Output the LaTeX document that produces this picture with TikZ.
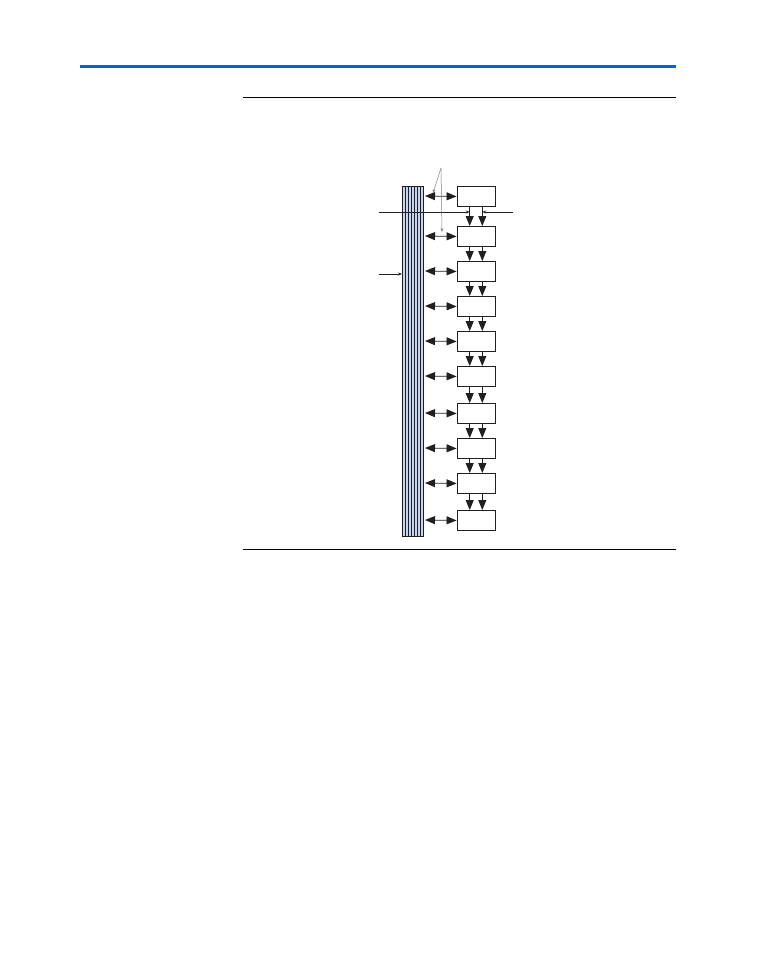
\documentclass[tikz,border=0pt]{standalone}
\usetikzlibrary{arrows.meta,calc}
\definecolor{hdrblue}{HTML}{0066CC}
\definecolor{busfill}{HTML}{C5D6F0}
\definecolor{ink}{HTML}{231F20}
\tikzset{
  blk/.style={draw=ink,line width=0.9pt,fill=white,minimum width=38pt,minimum height=20pt,inner sep=0pt},
  bigtip/.style={-{Triangle[length=10pt,width=8pt]}},
  dbltip/.style={{Triangle[length=10pt,width=8pt]}-{Triangle[length=10pt,width=8pt]}},
  wire/.style={line width=0.8pt,ink},
  smalltip/.style={-{Stealth[length=4pt,width=3pt]}},
  leader/.style={line width=0.5pt,gray,-{Stealth[length=4pt,width=3pt]}},
}
\begin{document}
\begin{tikzpicture}[x=1pt,y=-1pt]
\useasboundingbox (0,0) rectangle (756,972);
% header rules
\draw[hdrblue,line width=3pt] (80,66) -- (676,66);
\draw[black,line width=0.9pt] (243,97) -- (676,97);
\draw[black,line width=0.9pt] (243,549) -- (676,549);
% bus
\node[draw=ink,line width=0.9pt,fill=busfill,minimum width=21pt,minimum height=350pt,inner sep=0pt,anchor=north west] (bus) at (402,186) {};
\foreach \i in {1,...,6}{
  \draw[ink,line width=0.65pt] ($(bus.north west)+(\i*3,0)$) -- ($(bus.south west)+(\i*3,0)$);
}
% boxes
\foreach \n/\t in {1/186,2/226,3/261,4/296,5/331,6/366,7/403,8/438,9/473,10/510}{
  \node[blk,anchor=north] (b\n) at (476,\t) {};
  \draw[wire,dbltip] (423+2,\t+10) -- (b\n.west);
}
% down arrows
\foreach \a/\b in {1/2,2/3,3/4,4/5,5/6,6/7,7/8,8/9,9/10}{
  \draw[wire,bigtip] ($(b\a.south)+(-6.3,0)$) -- ($(b\b.north)+(-6.3,0)$);
  \draw[wire,bigtip] ($(b\a.south)+(6.3,0)$) -- ($(b\b.north)+(6.3,0)$);
}
% horizontal line into first arrows
\coordinate (hl) at (379,212);
\coordinate (hr) at (513,212);
\coordinate (hla) at (469.7,212);
\coordinate (hra) at (482.3,212);
\draw[wire,smalltip] (hl) -- (hla);
\draw[wire,smalltip] (hr) -- (hra);
% pointer into bus
\coordinate (pl) at (379,274);
\coordinate (pb) at (402,274);
\draw[wire,smalltip] (pl) -- (pb);
% leader lines
\coordinate (ap) at (441,168);
\coordinate (l1) at (433,193);
\coordinate (l2) at (442,232);
\draw[leader] (ap) -- (l1);
\draw[leader] (ap) -- (l2);
\end{tikzpicture}
\end{document}
